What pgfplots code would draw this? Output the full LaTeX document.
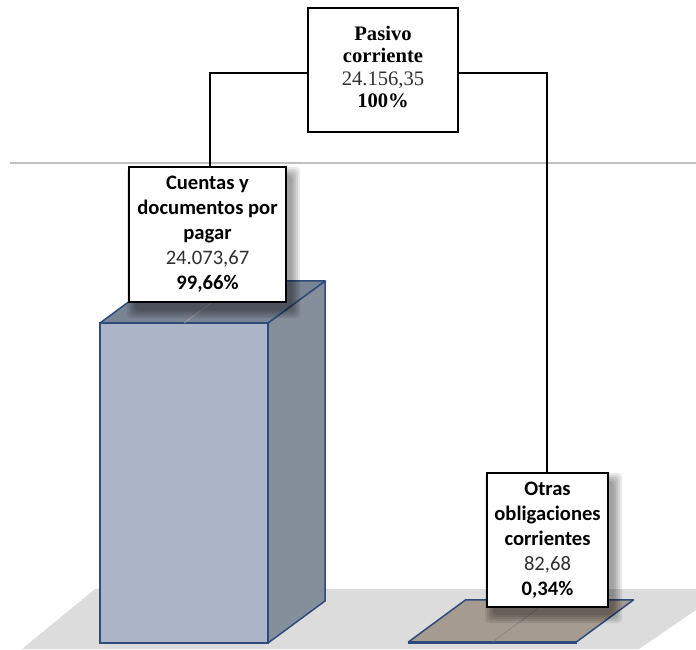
\documentclass[border=0pt]{standalone}
\usepackage{fontspec}
\setmainfont{Liberation Serif}
\newfontfamily\carlito{Carlito}
\usepackage{pgfplots}
\pgfplotsset{compat=1.18}

\definecolor{front1}{HTML}{ABB5C7}
\definecolor{side1}{HTML}{858E9B}
\definecolor{top1}{HTML}{7A8393}
\definecolor{top2}{HTML}{A69B91}
\definecolor{edge}{HTML}{2F4B7C}
\definecolor{floorgray}{HTML}{DCDCDC}
\definecolor{gridgray}{HTML}{BFBFBF}
\definecolor{valgray}{HTML}{303030}

% soft shadow behind a box, corners in pixel units
\newcommand{\shadowbox}[4]{%
  \foreach \b in {0,2,4,6,8}{%
    \fill[black,opacity=0.085,rounded corners=2pt] (#1+6-\b,#2+8-\b) rectangle (#3+6+\b,#4+8+\b);}}

\begin{document}
\begin{tikzpicture}
\path[use as bounding box] (0pt,0pt) rectangle (348pt,324.5pt);

% floor and back line (1 px = 0.5pt, y from top)
\begin{scope}[x=0.5pt,y=-0.5pt,shift={(0pt,324.5pt)}]
  \fill[floorgray] (22,649) -- (95,589) -- (696,589) -- (696,610) -- (639,649) -- cycle;
  \draw[gridgray, line width=0.6pt] (10,163) -- (696,163);
\end{scope}

\begin{axis}[
    at={(0pt,0pt)}, anchor=south west,
    scale only axis, width=348pt, height=324.5pt,
    hide axis, clip=false,
    xmin=-0.5964, xmax=1.6596,
    ymin=-451.4, ymax=48373,
    xtick=data,
    xticklabels={Cuentas y documentos por pagar, Otras obligaciones corrientes},
]
% front faces
\addplot[ybar, bar width=0.5446, bar shift=0pt, fill=front1, draw=edge, line width=0.75pt]
  coordinates {(0,24073.67)};
\addplot[ybar, bar width=0.5446, bar shift=0pt, fill=top2, draw=edge, line width=0.75pt]
  coordinates {(1,82.68)};

% depth faces
\filldraw[fill=side1, draw=edge, line width=0.75pt, line join=round]
  (axis cs:0.2723,0) -- (axis cs:0.2723,24073.67) -- ([shift={(28.5pt,21pt)}]axis cs:0.2723,24073.67)
  -- ([shift={(28.5pt,21pt)}]axis cs:0.2723,0) -- cycle;
\filldraw[fill=top1, draw=edge, line width=0.75pt, line join=round]
  (axis cs:-0.2723,24073.67) -- (axis cs:0.2723,24073.67) -- ([shift={(28.5pt,21pt)}]axis cs:0.2723,24073.67)
  -- ([shift={(28.5pt,21pt)}]axis cs:-0.2723,24073.67) -- cycle;
\draw[gray!70, line width=0.3pt] (axis cs:0,24073.67) -- ([shift={(28.5pt,21pt)}]axis cs:0,24073.67);

\filldraw[fill=top2, draw=edge, line width=0.75pt, line join=round]
  (axis cs:0.7277,82.68) -- (axis cs:1.2723,82.68) -- ([shift={(28.5pt,21pt)}]axis cs:1.2723,82.68)
  -- ([shift={(28.5pt,21pt)}]axis cs:0.7277,82.68) -- cycle;
\draw[gray, line width=0.3pt] (axis cs:1,82.68) -- ([shift={(28.5pt,21pt)}]axis cs:1,82.68);
\end{axis}

% connectors and labels
\begin{scope}[x=0.5pt,y=-0.5pt,shift={(0pt,324.5pt)}]
  \draw[line width=0.7pt] (308,73) -- (210,73) -- (210,167);
  \draw[line width=0.7pt] (458,73) -- (547,73) -- (547,473);

  \shadowbox{129}{167}{286}{302}
  \shadowbox{487}{473}{608}{607}

  \filldraw[fill=white, draw=black, line width=1pt] (308,8) rectangle (458,132);
  \node[align=center, inner sep=0pt, font=\fontsize{10.3}{11.3}\selectfont] at (383,67)
    {\textbf{Pasivo}\\\textbf{corriente}\\{\color{valgray}24.156,35}\\\textbf{100\%}};

  \node[draw, fill=white, line width=1pt, align=center, inner sep=2pt,
        minimum width=78.5pt, minimum height=67.5pt,
        font=\carlito\fontsize{10.3}{12.5}\selectfont] at (207.5,234.5)
    {\textbf{Cuentas y}\\\textbf{documentos por}\\\textbf{pagar}\\{\color{valgray}24.073,67}\\\textbf{99,66\%}};

  \node[draw, fill=white, line width=1pt, align=center, inner sep=2pt,
        minimum width=60.5pt, minimum height=67pt,
        font=\carlito\fontsize{10.3}{12.5}\selectfont] at (547.5,540)
    {\textbf{Otras}\\\textbf{obligaciones}\\\textbf{corrientes}\\{\color{valgray}82,68}\\\textbf{0,34\%}};
\end{scope}
\end{tikzpicture}
\end{document}
